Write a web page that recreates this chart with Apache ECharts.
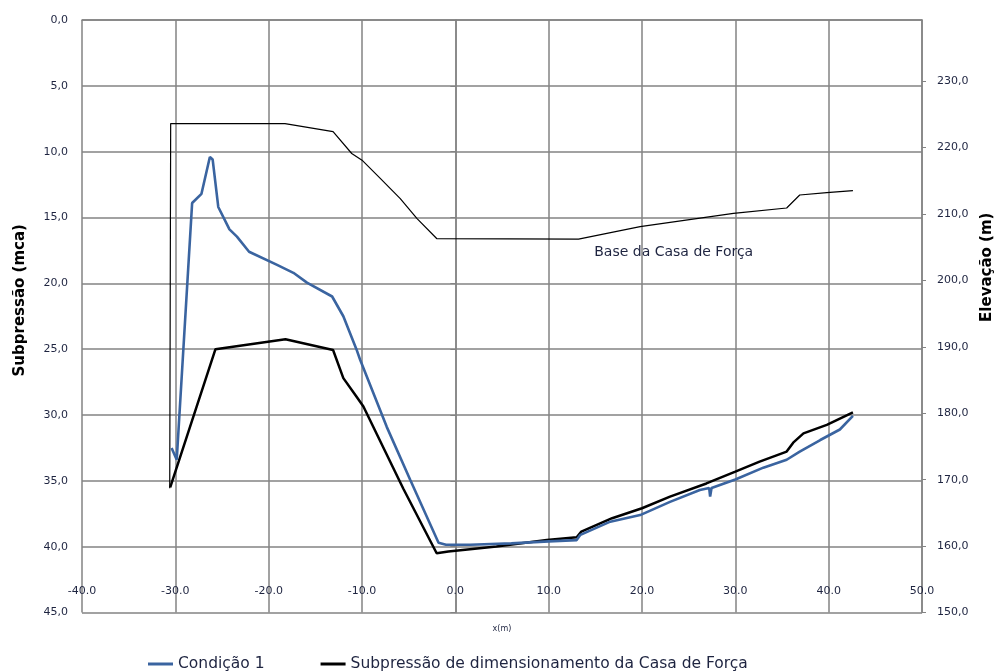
<!DOCTYPE html>
<html>
<head>
<meta charset="utf-8">
<script src="https://cdn.jsdelivr.net/npm/echarts@6/dist/echarts.min.js"></script>
<style>html,body{margin:0;padding:0;background:#fff}#c{width:1003px;height:671px}</style>
</head>
<body>
<div id="c"></div>
<script>
// Condição 1 (Subpressão, mca) — x (m)
var cond1X = [-30.4,-29.85,-28.2,-27.2,-26.3,-26.0,-25.4,-24.2,-23.4,-22.1,-19.1,-17.35,-15.9,-13.2,-12.0,-10.6,-10.2,-7.35,-4.85,-1.8,-1.0,1.6,6.0,10.0,13.0,13.4,16.6,19.8,23.0,26.2,27.2,27.3,27.45,30.0,33.0,35.5,36.9,39.1,41.2,42.6];
var cond1Y = [32.5,33.4,13.9,13.2,10.4,10.6,14.2,15.9,16.45,17.6,18.6,19.2,19.95,21.0,22.5,25.0,25.8,30.9,34.9,39.7,39.85,39.86,39.75,39.6,39.5,39.1,38.1,37.6,36.6,35.7,35.55,36.2,35.55,34.9,34.0,33.4,32.78,31.9,31.1,30.07];
// Subpressão de dimensionamento da Casa de Força (mca)
var dimX = [-30.55,-25.7,-18.2,-13.1,-12.0,-10.6,-9.85,-5.57,-2.0,-0.75,4.4,9.8,13.0,13.5,16.8,20.0,23.0,26.9,30.0,32.6,35.5,36.2,37.3,39.8,42.6];
var dimY = [35.5,25.0,24.25,25.06,27.2,28.6,29.36,35.6,40.5,40.37,39.99,39.5,39.28,38.85,37.84,37.08,36.2,35.2,34.3,33.54,32.78,32.1,31.4,30.75,29.8];
// Base da Casa de Força (Elevação, m)
var baseX = [-30.6,-30.5,-18.25,-13.1,-11.1,-10.0,-8.07,-5.9,-4.1,-2.0,13.2,19.8,29.8,35.5,36.9,39.8,42.6];
var baseY = [168.7,223.6,223.6,222.4,219.1,218.1,215.4,212.3,209.3,206.3,206.2,208.1,210.1,210.9,212.85,213.2,213.5];
var rightTicks = [150,160,170,180,190,200,210,220,230];
var baseLabel = {text: 'Base da Casa de Força', x: 23.4, y: 204.2};

function pairs(xs, ys){ return xs.map(function(x,i){ return [x, ys[i]]; }); }
var gridColor = '#838383';
var txtColor = '#1e2440';
var chart = echarts.init(document.getElementById('c'));
chart.setOption({
  animation: false,
  backgroundColor: '#fff',
  textStyle: {fontFamily: 'DejaVu Sans'},
  grid: {left: 82, right: 81, top: 20, bottom: 58.5, containLabel: false},
  legend: {
    left: 143, top: 651, itemGap: 56, itemWidth: 25, itemHeight: 3,
    icon: 'rect',
    textStyle: {fontSize: 15.5, color: txtColor, fontFamily: 'DejaVu Sans'},
    data: ['Condição 1', 'Subpressão de dimensionamento da Casa de Força']
  },
  xAxis: {
    type: 'value', min: -40, max: 50, interval: 10,
    name: 'x(m)', nameLocation: 'middle', nameGap: 12,
    nameTextStyle: {fontSize: 8, color: txtColor},
    axisLine: {show: true, lineStyle: {color: gridColor, width: 1.5}},
    axisTick: {show: false},
    axisLabel: {inside: false, margin: -27, fontSize: 11, color: txtColor,
      formatter: function(v){ return v.toFixed(1); }},
    splitLine: {show: true, lineStyle: {color: gridColor, width: 1.5}}
  },
  yAxis: [{
    type: 'value', inverse: true, min: 0, max: 45, interval: 5,
    name: 'Subpressão (mca)', nameLocation: 'middle', nameGap: 54,
    nameTextStyle: {fontSize: 15, fontWeight: 'bold', color: '#000', padding: [0,0,0,32]},
    axisLine: {show: true, lineStyle: {color: gridColor, width: 1.5}},
    axisTick: {show: true, length: 5, lineStyle: {color: gridColor}},
    axisLabel: {margin: 14, fontSize: 11, color: txtColor,
      formatter: function(v){ return v.toFixed(1).replace('.', ','); }},
    splitLine: {show: true, lineStyle: {color: gridColor, width: 1.5}}
  }, {
    type: 'value', position: 'right', min: 150, max: 239.2,
    name: 'Elevação (m)', nameLocation: 'middle', nameGap: 58, nameRotate: 90,
    nameTextStyle: {fontSize: 15, fontWeight: 'bold', color: '#000', padding: [0,0,0,98]},
    axisLine: {show: true, lineStyle: {color: gridColor, width: 1.5}},
    axisTick: {show: true, length: 4, customValues: rightTicks, lineStyle: {color: gridColor}},
    axisLabel: {margin: 15, fontSize: 11, color: txtColor, customValues: rightTicks,
      formatter: function(v){ return v.toFixed(1).replace('.', ','); }},
    splitLine: {show: false}
  }],
  series: [{
    name: 'Base da Casa de Força', type: 'line', yAxisIndex: 1,
    data: pairs(baseX, baseY), showSymbol: false, symbol: 'none',
    lineStyle: {color: '#000', width: 1.2}, itemStyle: {color: '#000'},
    markPoint: {
      symbol: 'circle', symbolSize: 1, itemStyle: {color: 'rgba(0,0,0,0)'},
      label: {show: true, position: 'inside', fontSize: 14, color: txtColor,
        formatter: function(){ return baseLabel.text; }},
      data: [{coord: [baseLabel.x, baseLabel.y]}]
    }
  }, {
    name: 'Subpressão de dimensionamento da Casa de Força', type: 'line', yAxisIndex: 0,
    data: pairs(dimX, dimY), showSymbol: false, symbol: 'none',
    lineStyle: {color: '#000', width: 2.5}, itemStyle: {color: '#000'}
  }, {
    name: 'Condição 1', type: 'line', yAxisIndex: 0,
    data: pairs(cond1X, cond1Y), showSymbol: false, symbol: 'none',
    lineStyle: {color: '#3a64a0', width: 2.6}, itemStyle: {color: '#3a64a0'}
  }]
});
</script>
</body>
</html>
